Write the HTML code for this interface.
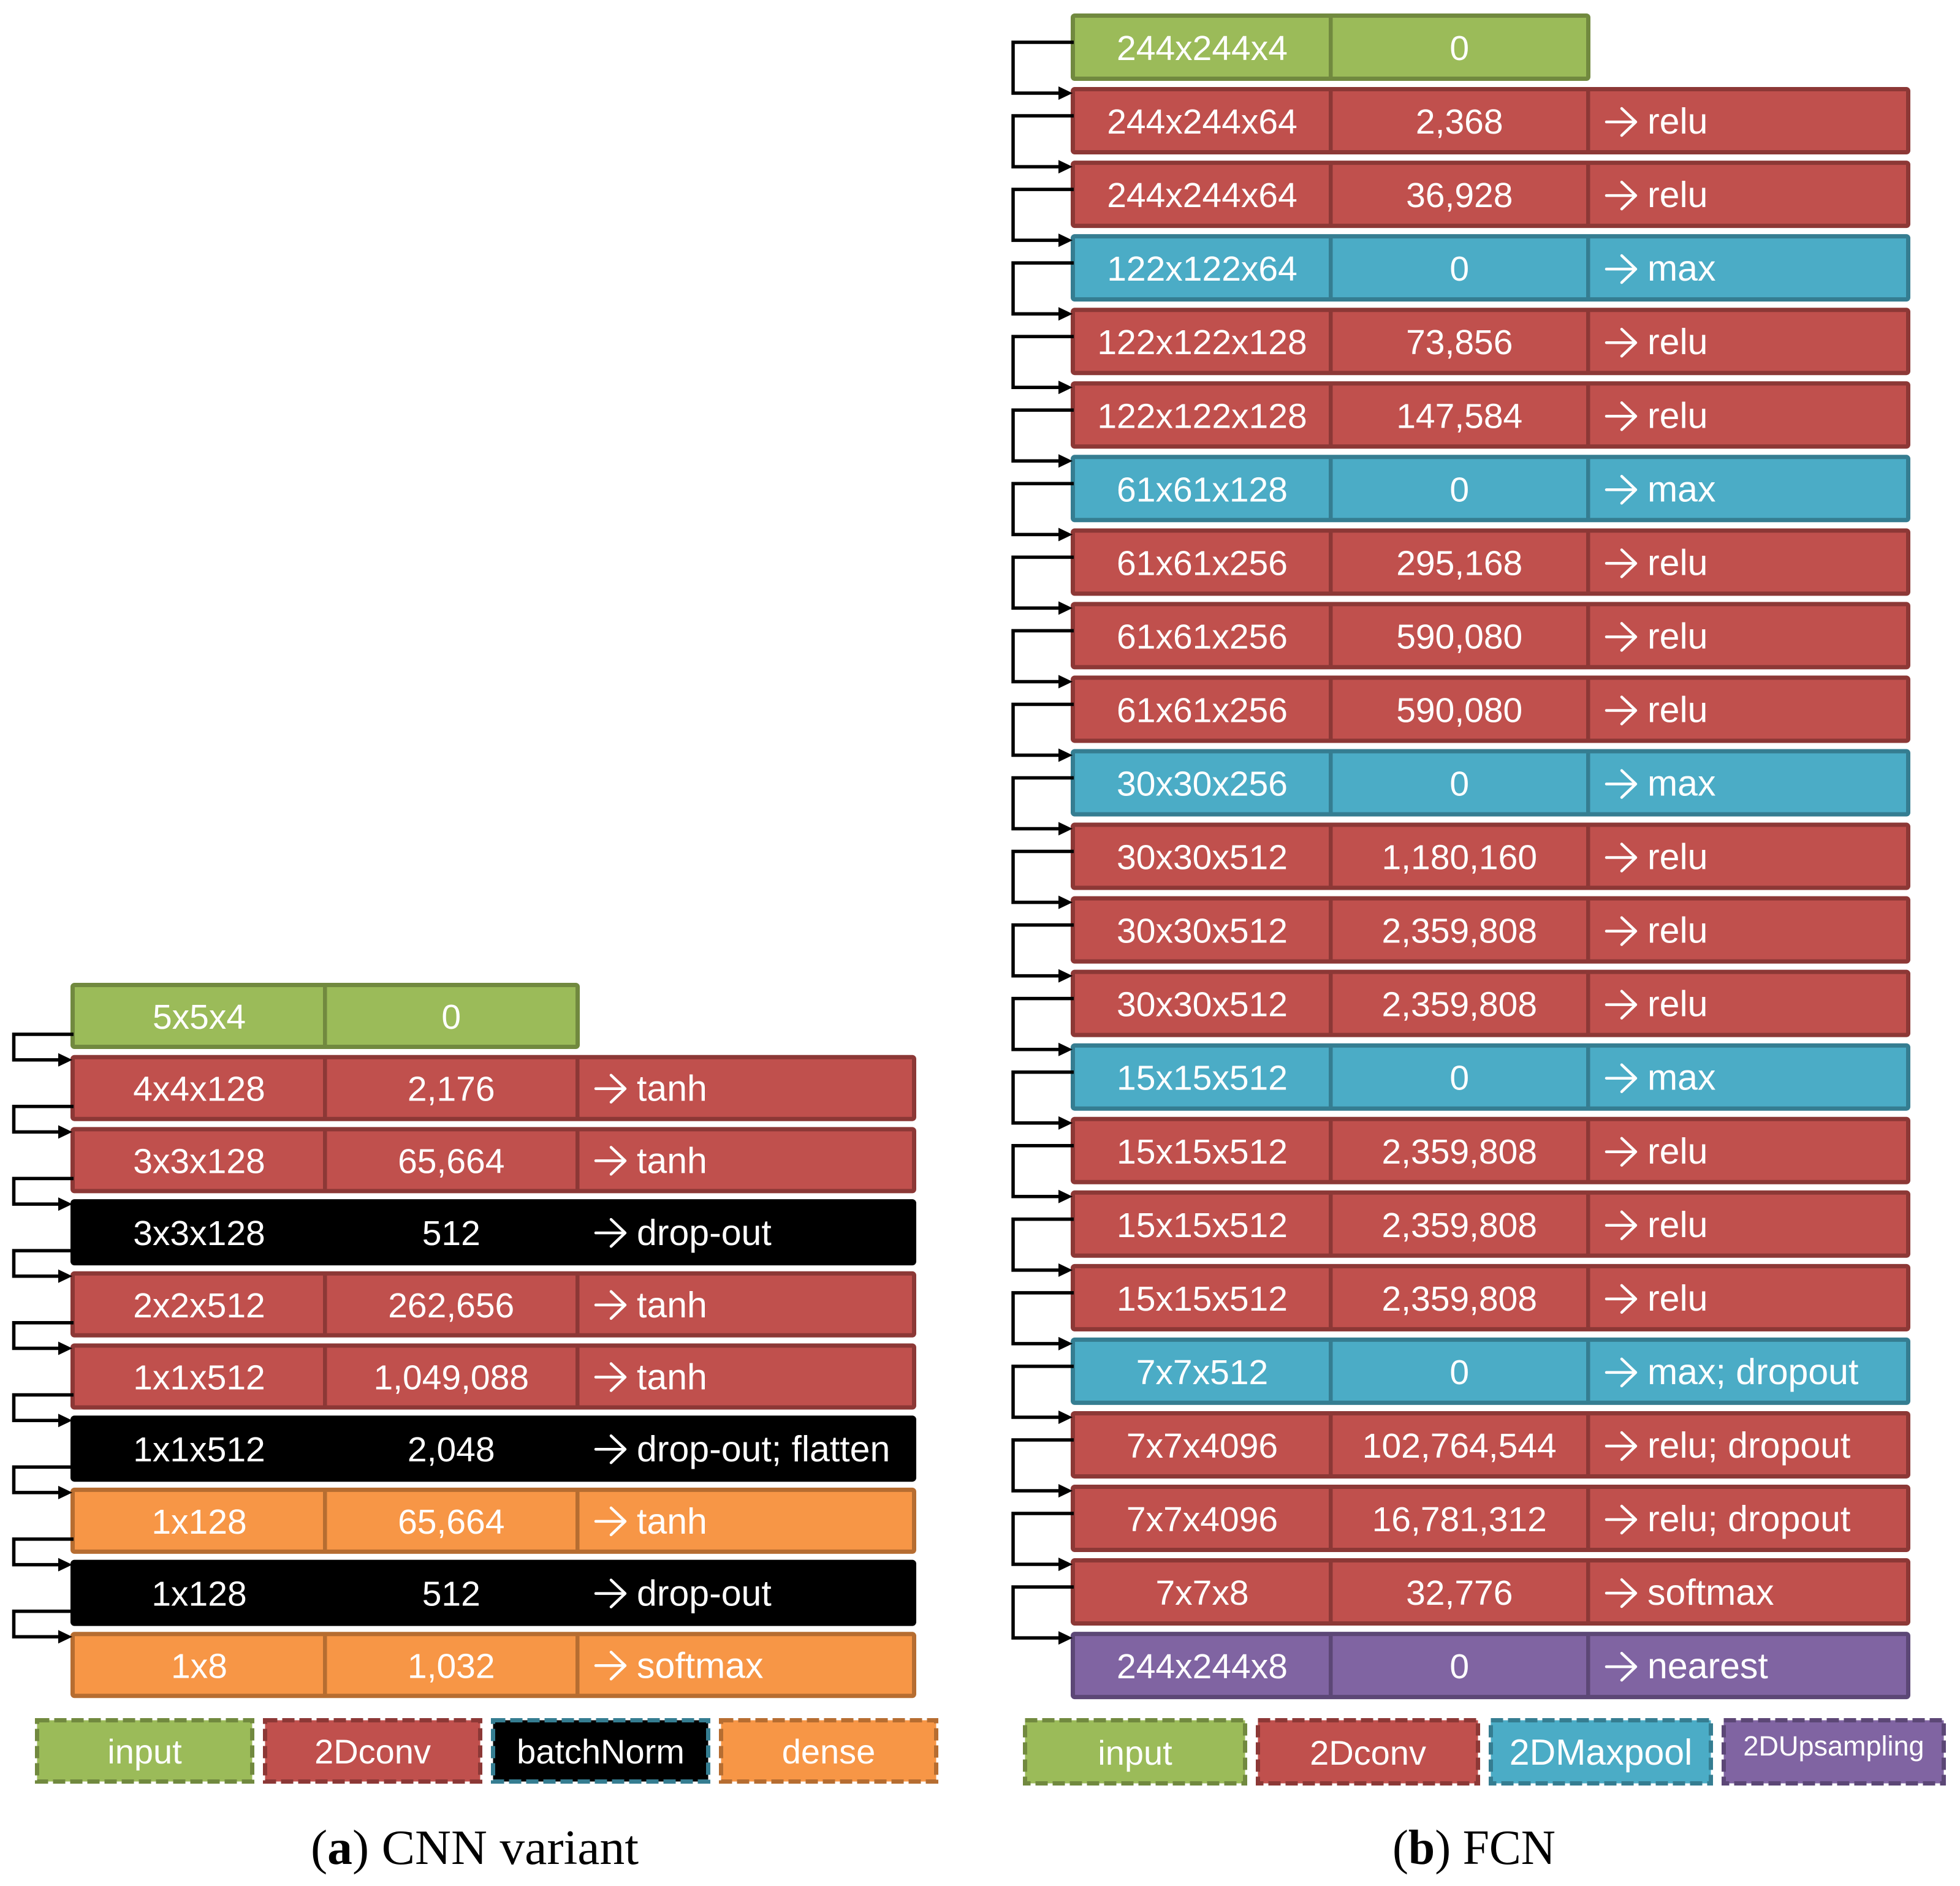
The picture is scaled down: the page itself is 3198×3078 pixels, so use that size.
<!DOCTYPE html>
<html lang="en">
<head>
<meta charset="utf-8">
<title>CNN variant and FCN architectures</title>
<style>
html,body{margin:0;padding:0;background:#fff;}
svg{display:block;}
text{font-family:"Liberation Sans",sans-serif;fill:#fff;}
.cap{font-family:"Liberation Serif",serif;fill:#000;}
</style>
</head>
<body>
<svg id="fig" xmlns="http://www.w3.org/2000/svg" width="3198" height="3078" viewBox="0 0 3198 3078">
<rect x="0" y="0" width="3198" height="3078" fill="#ffffff"/>
<text class="cap" x="507" y="3042" font-size="80" textLength="535" lengthAdjust="spacingAndGlyphs">(<tspan font-weight="bold">a</tspan>) CNN variant</text>
<text class="cap" x="2272" y="3042" font-size="80" textLength="266" lengthAdjust="spacingAndGlyphs">(<tspan font-weight="bold">b</tspan>) FCN</text>
</svg>
<script>
// CNN variant table
const cnnKinds = ['input','conv','conv','norm','conv','conv','norm','dense','norm','dense'];
const cnnShapes = ['5x5x4','4x4x128','3x3x128','3x3x128','2x2x512','1x1x512','1x1x512','1x128','1x128','1x8'];
const cnnParams = ['0','2,176','65,664','512','262,656','1,049,088','2,048','65,664','512','1,032'];
const cnnActivations = ['','tanh','tanh','drop-out','tanh','tanh','drop-out; flatten','tanh','drop-out','softmax'];

// FCN table
const fcnKinds = ['input','conv','conv','pool','conv','conv','pool','conv','conv','conv','pool','conv','conv','conv','pool','conv','conv','conv','pool','conv','conv','conv','up'];
const fcnShapes = ['244x244x4','244x244x64','244x244x64','122x122x64','122x122x128','122x122x128','61x61x128','61x61x256','61x61x256','61x61x256','30x30x256','30x30x512','30x30x512','30x30x512','15x15x512','15x15x512','15x15x512','15x15x512','7x7x512','7x7x4096','7x7x4096','7x7x8','244x244x8'];
const fcnParams = ['0','2,368','36,928','0','73,856','147,584','0','295,168','590,080','590,080','0','1,180,160','2,359,808','2,359,808','0','2,359,808','2,359,808','2,359,808','0','102,764,544','16,781,312','32,776','0'];
const fcnActivations = ['','relu','relu','max','relu','relu','max','relu','relu','relu','max','relu','relu','relu','max','relu','relu','relu','max; dropout','relu; dropout','relu; dropout','softmax','nearest'];

// Legends
const cnnLegendLabels = ['input','2Dconv','batchNorm','dense'];
const cnnLegendKinds = ['input','conv','norm','dense'];
const fcnLegendLabels = ['input','2Dconv','2DMaxpool','2DUpsampling'];
const fcnLegendKinds = ['input','conv','pool','up'];

const fills = {input:'#9BBB59',conv:'#C0504D',pool:'#4BACC6',up:'#8064A2',dense:'#F79646',norm:'#000000'};
const strokes = {input:'#71893F',conv:'#8C3836',pool:'#357D91',up:'#5C4776',dense:'#B66D31',norm:'#000000'};

const NS = 'http://www.w3.org/2000/svg';
const fig = document.getElementById('fig');
function mk(tag, attrs, parent){
  const el = document.createElementNS(NS, tag);
  for (const k in attrs) el.setAttribute(k, attrs[k]);
  (parent || fig).appendChild(el);
  return el;
}

function drawTable(name, kinds, shapes, params, acts, g){
  const rowY = i => g.top + i * g.pitch;
  const connectors = mk('g', {});
  
  
  kinds.forEach((kind, i) => {
    const y = rowY(i);
    const row = mk('g', {});
    
    
    const right = acts[i] ? g.right : g.div2 + 7;
    const box = mk('rect', {x:g.left+3.5, y:y+3.5, width:right-g.left-7, height:g.h-7, rx:3, fill:fills[kind], stroke:strokes[kind], 'stroke-width':7}, row);
    
    
    const d1 = mk('rect', {x:g.div1, y:y+4, width:6.5, height:g.h-8, fill:strokes[kind]}, row);
    
    
    const d2 = mk('rect', {x:g.div2, y:y+4, width:6.5, height:g.h-8, fill:strokes[kind]}, row);
    
    
    const t1 = mk('text', {x:(g.left+g.div1)/2+4, y:y+g.base, 'font-size':57, 'text-anchor':'middle'}, row);
    t1.textContent = shapes[i];
    
    
    const t2 = mk('text', {x:(g.div1+g.div2+6.5)/2, y:y+g.base, 'font-size':57, 'text-anchor':'middle'}, row);
    t2.textContent = params[i];
    
    
    if (acts[i]) {
      const ay = y + g.arrowY, ax = g.div2 + 33;
      const glyph = mk('path', {d:`M${ax} ${ay}H${ax+47}M${ax+25} ${ay-22}L${ax+48} ${ay}L${ax+25} ${ay+22}`, fill:'none', stroke:'#fff', 'stroke-width':4.5, 'stroke-linecap':'round', 'stroke-linejoin':'round'}, row);
      
      
      const t3 = mk('text', {x:ax+67, y:y+g.base, 'font-size':59}, row);
      t3.textContent = acts[i];
      
      
    }
  });
  fig.appendChild(connectors);
  for (let i = 1; i < kinds.length; i++) {
    const y0 = rowY(i-1) + g.outY, y1 = rowY(i) + g.inY;
    const line = mk('path', {d:`M${g.left+5} ${y0}H${g.vx}V${y1}H${g.tip-15}`, fill:'none', stroke:'#000', 'stroke-width':5.5, 'stroke-linejoin':'miter'}, connectors);
    
    
    const head = mk('polygon', {points:`${g.tip-23},${y1-11} ${g.tip},${y1} ${g.tip-23},${y1+11}`, fill:'#000'}, connectors);
    
    
  }
}

function drawLegend(name, labels, kinds, g){
  kinds.forEach((kind, i) => {
    const x = g.x + i * g.step;
    const item = mk('g', {});
    
    
    const strokeCol = kind === 'norm' ? '#357D91' : strokes[kind];
    const box = mk('rect', {x:x+3.5, y:g.y+3.5, width:g.w-7, height:g.h-7, fill:fills[kind], stroke:strokeCol, 'stroke-width':7, 'stroke-dasharray':'20 8'}, item);
    
    
    const small = labels[i] === '2DUpsampling';
    const size = small ? 45 : (labels[i] === '2DMaxpool' ? 59 : 56);
    const t = mk('text', {x:x+g.w/2, y:small ? g.y+61 : g.y+g.base, 'font-size':size, 'text-anchor':'middle'}, item);
    t.textContent = labels[i];
    
    
  });
}

drawTable('cnn', cnnKinds, cnnShapes, cnnParams, cnnActivations,
  {top:1604, pitch:117.7, h:108, left:115, right:1495, div1:527, div2:939, base:75, arrowY:55, outY:84, inY:8, vx:22.5, tip:118});
drawTable('fcn', fcnKinds, fcnShapes, fcnParams, fcnActivations,
  {top:22, pitch:120.05, h:110, left:1747, right:3117, div1:2168, div2:2588, base:76, arrowY:57, outY:47, inY:10, vx:1653, tip:1750});
drawLegend('cnn-legend', cnnLegendLabels, cnnLegendKinds, {x:57, y:2804, w:358, h:107, step:372, base:74});
drawLegend('fcn-legend', fcnLegendLabels, fcnLegendKinds, {x:1669, y:2804, w:366, h:110, step:380, base:76});
</script>
</body>
</html>
